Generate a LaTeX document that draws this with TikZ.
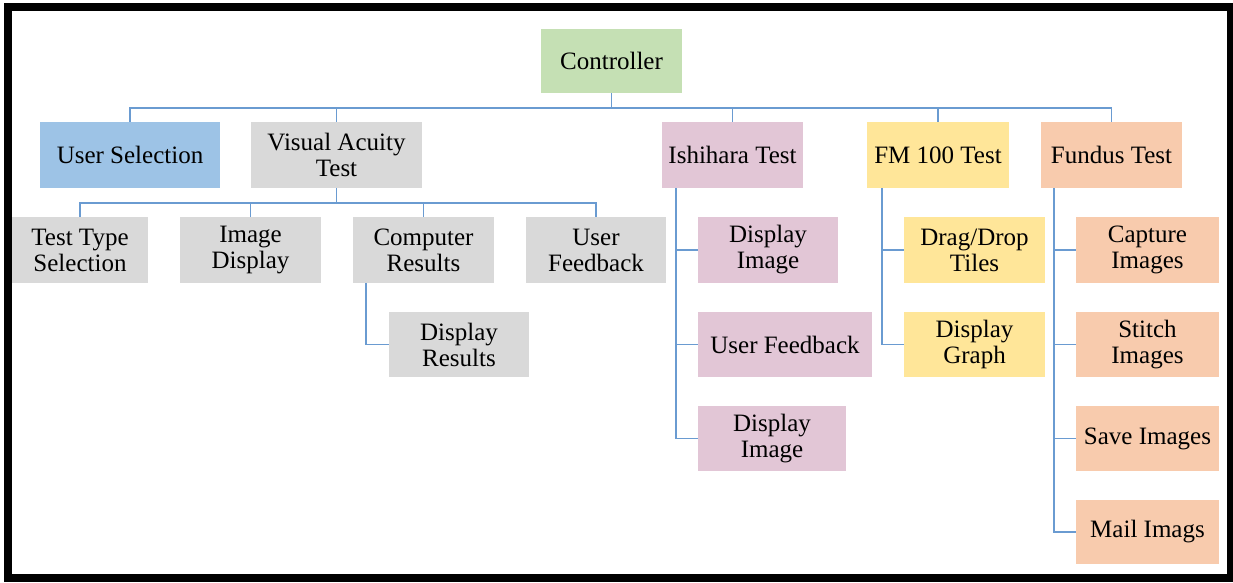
\documentclass[tikz,border=0pt]{standalone}
\usepackage{fontspec}
\setmainfont{Liberation Serif}
\definecolor{ctrlgreen}{HTML}{C5E0B4}
\definecolor{selblue}{HTML}{9DC3E6}
\definecolor{vagray}{HTML}{D9D9D9}
\definecolor{ishpink}{HTML}{E2C6D6}
\definecolor{fmyellow}{HTML}{FFE699}
\definecolor{funpeach}{HTML}{F8CBAD}
\definecolor{wire}{HTML}{6A9BD1}
\tikzset{
  box/.style={rectangle, inner sep=0pt, align=center,
    font=\fontsize{25}{26}\selectfont, text=black},
  wirestyle/.style={draw=wire, line width=1.6pt}
}
\begin{document}
\begin{tikzpicture}[x=1pt, y=-1pt]
\useasboundingbox (0,0) rectangle (1233,582);
\fill[white] (0,0) rectangle (1233,582);
% outer frame
\fill[black] (4,3) rectangle (1233,582);
\fill[white] (12,11) rectangle (1227,574);

% top level
\node[box, fill=ctrlgreen, minimum width=141, minimum height=64] (ctrl) at (611.5,61) {Controller};
\node[box, fill=selblue, minimum width=180, minimum height=66] (usel) at (130,155) {User Selection};
\node[box, fill=vagray, minimum width=171, minimum height=66] (vat) at (336.5,155) {Visual Acuity\\Test};
\node[box, fill=ishpink, minimum width=141, minimum height=66] (ish) at (732.5,155) {Ishihara Test};
\node[box, fill=fmyellow, minimum width=142, minimum height=66] (fm) at (938,155) {FM 100 Test};
\node[box, fill=funpeach, minimum width=141, minimum height=66] (fun) at (1111.5,155) {Fundus Test};

% visual acuity branch
\node[box, fill=vagray, minimum width=136, minimum height=66] (tts) at (80,250) {Test Type\\Selection};
\node[box, fill=vagray, minimum width=141, minimum height=66] (imd) at (250.5,250) {Image\\Display};
\node[box, fill=vagray, minimum width=141, minimum height=66] (cres) at (423.5,250) {Computer\\Results};
\node[box, fill=vagray, minimum width=140, minimum height=66] (ufb) at (596,250) {User\\Feedback};
\node[box, fill=vagray, minimum width=140, minimum height=65] (dres) at (459,344.5) {Display\\Results};

% ishihara branch
\node[box, fill=ishpink, minimum width=140, minimum height=66] (ish1) at (768,250) {Display\\Image};
\node[box, fill=ishpink, minimum width=174, minimum height=65] (ish2) at (785,344.5) {User Feedback};
\node[box, fill=ishpink, minimum width=148, minimum height=65] (ish3) at (772,438.5) {Display\\Image};

% fm 100 branch
\node[box, fill=fmyellow, minimum width=141, minimum height=66] (fm1) at (974.5,250) {Drag/Drop\\Tiles};
\node[box, fill=fmyellow, minimum width=141, minimum height=65] (fm2) at (974.5,344.5) {Display\\Graph};

% fundus branch
\node[box, fill=funpeach, minimum width=143, minimum height=66] (fu1) at (1147.5,250) {Capture\\Images};
\node[box, fill=funpeach, minimum width=143, minimum height=65] (fu2) at (1147.5,344.5) {Stitch\\Images};
\node[box, fill=funpeach, minimum width=143, minimum height=65] (fu3) at (1147.5,438.5) {Save Images};
\node[box, fill=funpeach, minimum width=143, minimum height=64] (fu4) at (1147.5,532) {Mail Imags};

% connectors: controller bus
\coordinate (bus) at (611.5,108);
\draw[wirestyle] (ctrl.south) -- (bus);
\draw[wirestyle] (usel.north) |- (bus) -| (fun.north);
\draw[wirestyle] (vat.north) -- (vat.north |- bus);
\draw[wirestyle] (ish.north) -- (ish.north |- bus);
\draw[wirestyle] (fm.north) -- (fm.north |- bus);

% visual acuity bus
\coordinate (vbus) at (336.5,203);
\draw[wirestyle] (vat.south) -- (vbus);
\draw[wirestyle] (tts.north) |- (vbus) -| (ufb.north);
\draw[wirestyle] (imd.north) -- (imd.north |- vbus);
\draw[wirestyle] (cres.north) -- (cres.north |- vbus);

% computer results to display results
\coordinate (crs) at ([xshift=13pt]cres.south west);
\draw[wirestyle] (crs) |- (dres.west);

% ishihara spine
\coordinate (ishs) at ([xshift=14pt]ish.south west);
\draw[wirestyle] (ishs) |- (ish3.west);
\draw[wirestyle] (ishs |- ish1.west) -- (ish1.west);
\draw[wirestyle] (ishs |- ish2.west) -- (ish2.west);

% fm 100 spine
\coordinate (fms) at ([xshift=15pt]fm.south west);
\draw[wirestyle] (fms) |- (fm2.west);
\draw[wirestyle] (fms |- fm1.west) -- (fm1.west);

% fundus spine
\coordinate (funs) at ([xshift=13pt]fun.south west);
\draw[wirestyle] (funs) |- (fu4.west);
\draw[wirestyle] (funs |- fu1.west) -- (fu1.west);
\draw[wirestyle] (funs |- fu2.west) -- (fu2.west);
\draw[wirestyle] (funs |- fu3.west) -- (fu3.west);
\end{tikzpicture}
\end{document}
